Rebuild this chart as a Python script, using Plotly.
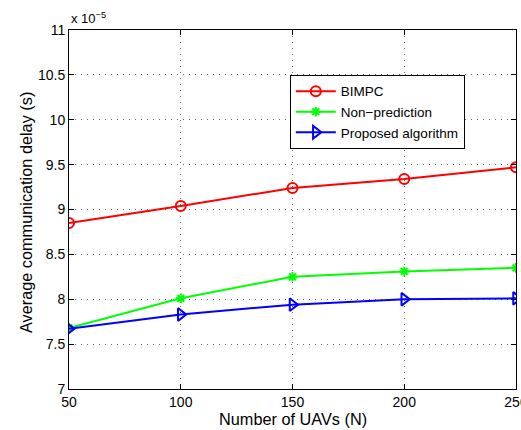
import plotly.graph_objects as go

# Number of UAVs
num_uavs = [50, 100, 150, 200, 250]

# Average communication delay, in units of 1e-5 s
bimpc = [8.85, 9.04, 9.24, 9.34, 9.47]
non_prediction = [7.68, 8.01, 8.25, 8.31, 8.35]
proposed = [7.67, 7.83, 7.94, 8.00, 8.01]

y_ticks = [7, 7.5, 8, 8.5, 9, 9.5, 10, 10.5, 11]
y_tick_text = ["7", "7.5", "8", "8.5", "9", "9.5", "10", "10.5", "11"]
x_ticks = [50, 100, 150, 200, 250]

FONT = "Liberation Sans, Arial, sans-serif"

fig = go.Figure()
fig.add_trace(go.Scatter(
    x=num_uavs, y=bimpc, name="BIMPC", mode="lines+markers",
    line=dict(color="#ff0000", width=2),
    marker=dict(symbol="circle-open", size=10, color="#ff0000", line=dict(width=2)),
))
fig.add_trace(go.Scatter(
    x=num_uavs, y=non_prediction, name="Non\u2212prediction", mode="lines+markers",
    line=dict(color="#00ff00", width=2),
    marker=dict(symbol="asterisk-open", size=8, color="#00ff00", line=dict(width=2, color="#00ff00")),
))
fig.add_trace(go.Scatter(
    x=num_uavs, y=proposed, name="Proposed algorithm", mode="lines+markers",
    line=dict(color="#0000ff", width=2),
    marker=dict(symbol="triangle-right-open", size=11, color="#0000ff", line=dict(width=2)),
))

axis_common = dict(
    showline=True, linecolor="black", linewidth=1, mirror="ticks",
    ticks="inside", ticklen=5, tickcolor="black",
    showgrid=True, gridcolor="#666666", griddash="1px,5px", gridwidth=1,
    zeroline=False, automargin=False,
    tickfont=dict(family=FONT, size=14, color="black"),
)

fig.update_xaxes(range=[50, 250], tickvals=x_ticks, ticklabeloverflow="allow", **axis_common)
fig.update_yaxes(range=[7, 11], tickvals=y_ticks, ticktext=y_tick_text, **axis_common)

# axis titles
fig.add_annotation(
    text="Number of UAVs (N)", xref="paper", yref="paper",
    x=0.5, y=-0.0836, xanchor="center", yanchor="middle",
    showarrow=False, font=dict(family=FONT, size=16.3, color="black"),
)
fig.add_annotation(
    text="Average communication delay (s)", xref="paper", yref="paper",
    x=-0.0962, y=0.493, xanchor="center", yanchor="middle", textangle=-90,
    showarrow=False, font=dict(family=FONT, size=16.3, color="black"),
)

# exponent multiplier for the y axis
fig.add_annotation(
    text="x 10<sup>\u22125</sup>", xref="paper", yref="paper",
    x=0.0, y=1.0, xanchor="left", yanchor="bottom", yshift=2,
    showarrow=False, font=dict(family=FONT, size=13, color="black"),
)

fig.update_layout(
    width=521, height=430,
    margin=dict(l=69, r=5, t=30, b=41, autoexpand=False),
    plot_bgcolor="white", paper_bgcolor="white",
    font=dict(family=FONT, color="black"),
    legend=dict(
        x=0.494, y=0.875, xanchor="left", yanchor="top",
        bgcolor="white", bordercolor="black", borderwidth=1,
        font=dict(family=FONT, size=13.5, color="black"),
        tracegroupgap=0, itemwidth=40,
    ),
)

fig.write_html("out.html")
